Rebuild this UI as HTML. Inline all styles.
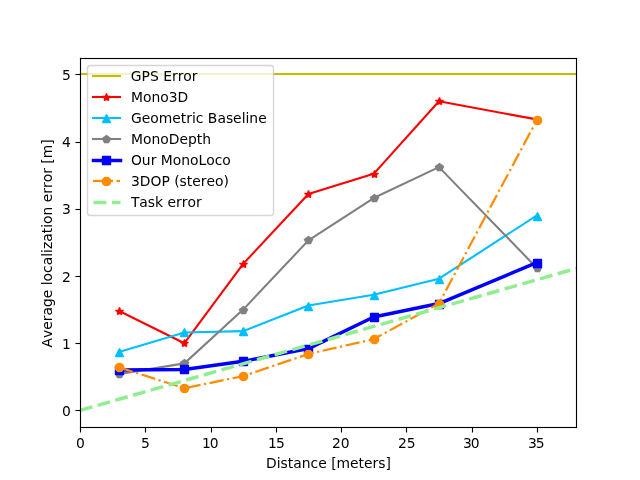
<!DOCTYPE html>
<html lang="en"><head><meta charset="utf-8"><title>Average localization error vs distance</title>
<style>html,body{margin:0;padding:0;background:#fff;overflow:hidden}body{width:640px;height:480px}</style></head>
<body>
<svg width="640" height="480" viewBox="0 0 640 480" style="display:block;font-family:'DejaVu Sans','Liberation Sans',sans-serif;font-size:13.889px;font-kerning:none" fill="#000">
<defs><clipPath id="ax"><rect x="80" y="57.6" width="496" height="369.6"/></clipPath></defs>
<rect width="640" height="480" fill="#fff"/>
<g><rect x="79.944" y="427.5" width="1.111" height="5.001" fill="#000"/><rect x="144.944" y="427.5" width="1.111" height="5.001" fill="#000"/><rect x="210.944" y="427.5" width="1.111" height="5.001" fill="#000"/><rect x="275.944" y="427.5" width="1.111" height="5.001" fill="#000"/><rect x="340.944" y="427.5" width="1.111" height="5.001" fill="#000"/><rect x="405.944" y="427.5" width="1.111" height="5.001" fill="#000"/><rect x="471.944" y="427.5" width="1.111" height="5.001" fill="#000"/><rect x="536.944" y="427.5" width="1.111" height="5.001" fill="#000"/><rect x="75.499" y="409.944" width="5.001" height="1.111" fill="#000"/><rect x="75.499" y="342.944" width="5.001" height="1.111" fill="#000"/><rect x="75.499" y="275.944" width="5.001" height="1.111" fill="#000"/><rect x="75.499" y="208.944" width="5.001" height="1.111" fill="#000"/><rect x="75.499" y="141.944" width="5.001" height="1.111" fill="#000"/><rect x="75.499" y="73.944" width="5.001" height="1.111" fill="#000"/></g>
<g text-anchor="middle"><text text-anchor="start" x="76.022" y="448">0</text><text text-anchor="start" x="141.065" y="448">5</text><text text-anchor="start" x="202.039 209.836" y="448">10</text><text text-anchor="start" x="267.992 275.889" y="448">15</text><text text-anchor="start" x="331.916 340.743" y="448">20</text><text text-anchor="start" x="397.939 406.816" y="448">25</text><text text-anchor="start" x="463.062 470.759" y="448">30</text><text text-anchor="start" x="528.065 535.822" y="448">35</text><text x="328.5" y="468">Distance [meters]</text></g>
<g text-anchor="end"><text x="70.778" y="416">0</text><text x="70.778" y="349">1</text><text x="70.778" y="282">2</text><text x="70.778" y="214">3</text><text x="70.778" y="147">4</text><text x="70.778" y="80">5</text></g>
<text text-anchor="middle" transform="translate(52 243.4) rotate(-90)">Average localization error [m]</text>
<g clip-path="url(#ax)">
<rect x="78.958" y="72.958" width="498.083" height="2.083" fill="#bfbf00"/>
<path d="M119.158 310.944 L184.421 343.2 L243.158 263.904 L308.421 194.016 L373.684 173.856 L438.947 101.28 L536.842 119.424" fill="none" stroke="#ff0000" stroke-width="2.083" stroke-linejoin="round" stroke-linecap="square"/>
<path d="M119.5 307.5 L118.5 310.5 L115.5 310.5 L117.5 311.5 L117.5 314.5 L119.5 313.5 L121.5 314.5 L121.5 311.5 L123.5 310.5 L120.5 310.5Z" fill="#ff0000" stroke="#ff0000" stroke-width="1.389" stroke-linejoin="bevel"/><path d="M184.5 339.5 L183.5 342.5 L180.5 342.5 L182.5 343.5 L182.5 346.5 L184.5 345.5 L186.5 346.5 L186.5 343.5 L188.5 342.5 L185.5 342.5Z" fill="#ff0000" stroke="#ff0000" stroke-width="1.389" stroke-linejoin="bevel"/><path d="M243.5 260.5 L242.5 263.5 L239.5 263.5 L241.5 264.5 L241.5 267.5 L243.5 266.5 L245.5 267.5 L245.5 264.5 L247.5 263.5 L244.5 263.5Z" fill="#ff0000" stroke="#ff0000" stroke-width="1.389" stroke-linejoin="bevel"/><path d="M308.5 190.5 L307.5 193.5 L304.5 193.5 L306.5 194.5 L306.5 197.5 L308.5 196.5 L310.5 197.5 L310.5 194.5 L312.5 193.5 L309.5 193.5Z" fill="#ff0000" stroke="#ff0000" stroke-width="1.389" stroke-linejoin="bevel"/><path d="M374.5 170.5 L373.5 173.5 L370.5 173.5 L372.5 174.5 L372.5 177.5 L374.5 176.5 L376.5 177.5 L376.5 174.5 L378.5 173.5 L375.5 173.5Z" fill="#ff0000" stroke="#ff0000" stroke-width="1.389" stroke-linejoin="bevel"/><path d="M439.5 97.5 L438.5 100.5 L435.5 100.5 L437.5 101.5 L437.5 104.5 L439.5 103.5 L441.5 104.5 L441.5 101.5 L443.5 100.5 L440.5 100.5Z" fill="#ff0000" stroke="#ff0000" stroke-width="1.389" stroke-linejoin="bevel"/><path d="M537.5 116.5 L536.5 119.5 L533.5 119.5 L535.5 120.5 L535.5 123.5 L537.5 122.5 L539.5 123.5 L539.5 120.5 L541.5 119.5 L538.5 119.5Z" fill="#ff0000" stroke="#ff0000" stroke-width="1.389" stroke-linejoin="bevel"/>
<path d="M119.158 351.936 L184.421 332.448 L243.158 331.104 L308.421 305.568 L373.684 294.816 L438.947 278.688 L536.842 215.52" fill="none" stroke="#00bfff" stroke-width="2.083" stroke-linejoin="round" stroke-linecap="square"/>
<path d="M119.5 348.5 L115.5 356.5 L123.5 356.5Z" fill="#00bfff" stroke="#00bfff" stroke-width="1.389" stroke-linejoin="bevel"/><path d="M184.5 328.5 L180.5 336.5 L188.5 336.5Z" fill="#00bfff" stroke="#00bfff" stroke-width="1.389" stroke-linejoin="bevel"/><path d="M243.5 327.5 L239.5 335.5 L247.5 335.5Z" fill="#00bfff" stroke="#00bfff" stroke-width="1.389" stroke-linejoin="bevel"/><path d="M308.5 302.5 L304.5 310.5 L312.5 310.5Z" fill="#00bfff" stroke="#00bfff" stroke-width="1.389" stroke-linejoin="bevel"/><path d="M374.5 291.5 L370.5 299.5 L378.5 299.5Z" fill="#00bfff" stroke="#00bfff" stroke-width="1.389" stroke-linejoin="bevel"/><path d="M439.5 275.5 L435.5 283.5 L443.5 283.5Z" fill="#00bfff" stroke="#00bfff" stroke-width="1.389" stroke-linejoin="bevel"/><path d="M537.5 212.5 L533.5 220.5 L541.5 220.5Z" fill="#00bfff" stroke="#00bfff" stroke-width="1.389" stroke-linejoin="bevel"/>
<path d="M119.158 374.112 L184.421 363.36 L243.158 309.6 L308.421 240.384 L373.684 198.048 L438.947 167.136 L536.842 267.936" fill="none" stroke="#808080" stroke-width="2.083" stroke-linejoin="round" stroke-linecap="square"/>
<path d="M119.5 370.5 L115.5 373.5 L117.5 377.5 L121.5 377.5 L123.5 373.5Z" fill="#808080" stroke="#808080" stroke-width="1.389" stroke-linejoin="miter"/><path d="M184.5 359.5 L180.5 362.5 L182.5 366.5 L186.5 366.5 L188.5 362.5Z" fill="#808080" stroke="#808080" stroke-width="1.389" stroke-linejoin="miter"/><path d="M243.5 306.5 L239.5 309.5 L241.5 313.5 L245.5 313.5 L247.5 309.5Z" fill="#808080" stroke="#808080" stroke-width="1.389" stroke-linejoin="miter"/><path d="M308.5 236.5 L304.5 239.5 L306.5 243.5 L310.5 243.5 L312.5 239.5Z" fill="#808080" stroke="#808080" stroke-width="1.389" stroke-linejoin="miter"/><path d="M374.5 194.5 L370.5 197.5 L372.5 201.5 L376.5 201.5 L378.5 197.5Z" fill="#808080" stroke="#808080" stroke-width="1.389" stroke-linejoin="miter"/><path d="M439.5 163.5 L435.5 166.5 L437.5 170.5 L441.5 170.5 L443.5 166.5Z" fill="#808080" stroke="#808080" stroke-width="1.389" stroke-linejoin="miter"/><path d="M537.5 264.5 L533.5 267.5 L535.5 271.5 L539.5 271.5 L541.5 267.5Z" fill="#808080" stroke="#808080" stroke-width="1.389" stroke-linejoin="miter"/>
<path d="M119.158 370.08 L184.421 369.408 L243.158 361.344 L308.421 348.576 L373.684 316.992 L438.947 303.552 L536.842 262.56" fill="none" stroke="#0000ff" stroke-width="3.472" stroke-linejoin="round" stroke-linecap="square"/>
<path d="M115.5 374.5 L123.5 374.5 L123.5 366.5 L115.5 366.5Z" fill="#0000ff" stroke="#0000ff" stroke-width="1.389" stroke-linejoin="bevel"/><path d="M180.5 373.5 L188.5 373.5 L188.5 365.5 L180.5 365.5Z" fill="#0000ff" stroke="#0000ff" stroke-width="1.389" stroke-linejoin="bevel"/><path d="M239.5 365.5 L247.5 365.5 L247.5 357.5 L239.5 357.5Z" fill="#0000ff" stroke="#0000ff" stroke-width="1.389" stroke-linejoin="bevel"/><path d="M304.5 353.5 L312.5 353.5 L312.5 345.5 L304.5 345.5Z" fill="#0000ff" stroke="#0000ff" stroke-width="1.389" stroke-linejoin="bevel"/><path d="M370.5 321.5 L378.5 321.5 L378.5 313.5 L370.5 313.5Z" fill="#0000ff" stroke="#0000ff" stroke-width="1.389" stroke-linejoin="bevel"/><path d="M435.5 308.5 L443.5 308.5 L443.5 300.5 L435.5 300.5Z" fill="#0000ff" stroke="#0000ff" stroke-width="1.389" stroke-linejoin="bevel"/><path d="M533.5 267.5 L541.5 267.5 L541.5 259.5 L533.5 259.5Z" fill="#0000ff" stroke="#0000ff" stroke-width="1.389" stroke-linejoin="bevel"/>
<path d="M119.158 367.392 L184.421 388.224 L243.158 376.128 L308.421 353.952 L373.684 339.168 L438.947 303.552 L536.842 120.096" fill="none" stroke="#ff8c00" stroke-width="2.222" stroke-linejoin="round" stroke-dasharray="14.222,3.556,2.222,3.556" stroke-linecap="butt"/>
<circle cx="119.5" cy="367.5" r="4.167" fill="#ff8c00" stroke="#ff8c00" stroke-width="1.389"/><circle cx="184.5" cy="388.5" r="4.167" fill="#ff8c00" stroke="#ff8c00" stroke-width="1.389"/><circle cx="243.5" cy="376.5" r="4.167" fill="#ff8c00" stroke="#ff8c00" stroke-width="1.389"/><circle cx="308.5" cy="354.5" r="4.167" fill="#ff8c00" stroke="#ff8c00" stroke-width="1.389"/><circle cx="374.5" cy="339.5" r="4.167" fill="#ff8c00" stroke="#ff8c00" stroke-width="1.389"/><circle cx="439.5" cy="304.5" r="4.167" fill="#ff8c00" stroke="#ff8c00" stroke-width="1.389"/><circle cx="537.5" cy="120.5" r="4.167" fill="#ff8c00" stroke="#ff8c00" stroke-width="1.389"/>
<path d="M80 410.4 L576 268.533" fill="none" stroke="#90ee90" stroke-width="3.472" stroke-linejoin="round" stroke-dasharray="12.847,5.556" stroke-linecap="butt"/>
</g>
<g><rect x="79.944" y="57.944" width="1.111" height="370.111" fill="#000"/><rect x="575.944" y="57.944" width="1.111" height="370.111" fill="#000"/><rect x="79.944" y="426.944" width="497.111" height="1.111" fill="#000"/><rect x="79.944" y="57.944" width="497.111" height="1.111" fill="#000"/></g>
<rect x="87.5" y="65.5" width="186" height="150" rx="2.778" ry="2.778" fill="#fff" stroke="#ccc" stroke-width="1.389" opacity="0.8"/>
<rect x="91.958" y="74.958" width="29.083" height="2.083" fill="#bfbf00"/>
<text x="130.85" y="81">GPS Error</text>
<rect x="91.958" y="95.958" width="29.083" height="2.083" fill="#ff0000"/>
<path d="M106.5 93.5 L105.5 96.5 L102.5 96.5 L104.5 97.5 L104.5 100.5 L106.5 99.5 L108.5 100.5 L108.5 97.5 L110.5 96.5 L107.5 96.5Z" fill="#ff0000" stroke="#ff0000" stroke-width="1.389" stroke-linejoin="bevel"/>
<text x="131" y="102">Mono3D</text>
<rect x="91.958" y="116.958" width="29.083" height="2.083" fill="#00bfff"/>
<path d="M106.5 114.5 L102.5 122.5 L110.5 122.5Z" fill="#00bfff" stroke="#00bfff" stroke-width="1.389" stroke-linejoin="bevel"/>
<text x="131" y="123">Geometric Baseline</text>
<rect x="91.958" y="137.958" width="29.083" height="2.083" fill="#808080"/>
<path d="M106.5 135.5 L102.5 138.5 L104.5 142.5 L108.5 142.5 L110.5 138.5Z" fill="#808080" stroke="#808080" stroke-width="1.389" stroke-linejoin="miter"/>
<text x="131" y="144">MonoDepth</text>
<rect x="91.764" y="158.764" width="30.472" height="3.472" fill="#0000ff"/>
<path d="M102.5 164.5 L110.5 164.5 L110.5 156.5 L102.5 156.5Z" fill="#0000ff" stroke="#0000ff" stroke-width="1.389" stroke-linejoin="bevel"/>
<text x="130.95" y="165">Our MonoLoco</text>
<rect x="93" y="179.889" width="14.222" height="2.222" fill="#ff8c00"/><rect x="110.778" y="179.889" width="2.222" height="2.222" fill="#ff8c00"/><rect x="116.556" y="179.889" width="3.444" height="2.222" fill="#ff8c00"/>
<circle cx="106.5" cy="181.5" r="4.167" fill="#ff8c00" stroke="#ff8c00" stroke-width="1.389"/>
<text x="131" y="186">3DOP (stereo)</text>
<rect x="93.5" y="200.764" width="12.847" height="3.472" fill="#90ee90"/><rect x="111.903" y="200.764" width="8.597" height="3.472" fill="#90ee90"/>
<text x="130.9" y="207">Task error</text>
</svg>
</body></html>
